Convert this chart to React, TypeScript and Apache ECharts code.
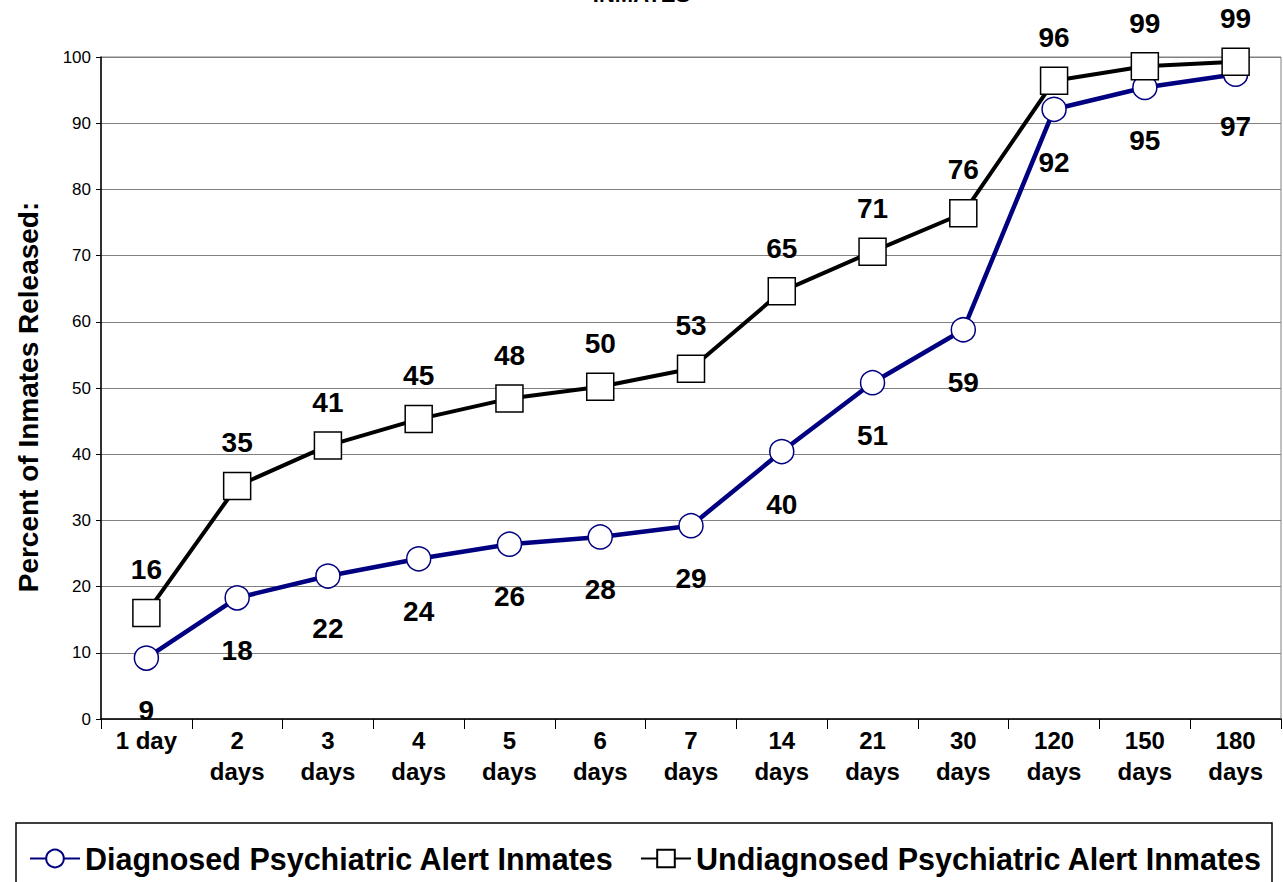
import React, { useEffect, useRef } from "react";
import * as echarts from "echarts";

const categories = ["1 day", "2\ndays", "3\ndays", "4\ndays", "5\ndays", "6\ndays", "7\ndays", "14\ndays", "21\ndays", "30\ndays", "120\ndays", "150\ndays", "180\ndays"];
const diagnosed = [9.2, 18.3, 21.6, 24.2, 26.4, 27.5, 29.2, 40.4, 50.8, 58.8, 92.1, 95.4, 97.4];
const undiagnosed = [16.0, 35.2, 41.3, 45.3, 48.4, 50.2, 52.9, 64.6, 70.6, 76.4, 96.4, 98.6, 99.3];
const seriesNames = ["Diagnosed Psychiatric Alert Inmates", "Undiagnosed Psychiatric Alert Inmates"];
const yTicks = { min: 0, max: 100, interval: 10 };

export default function App() {
  const ref = useRef<HTMLDivElement>(null);
  useEffect(() => {
    const chart = echarts.init(ref.current!, null, { renderer: "svg" });
    const font = "Arial, 'Liberation Sans', Helvetica, sans-serif";
    const legendBase = {
      top: 843,
      padding: 0,
      itemWidth: 50,
      itemHeight: 22,
      textStyle: { fontSize: 30.5, fontWeight: "bold", color: "#000", fontFamily: font },
    };
    chart.setOption({
      animation: false,
      backgroundColor: "#fff",
      textStyle: { fontFamily: font },
      title: {
        text: "INMATES",
        left: "center",
        top: -22,
        textStyle: { fontSize: 22, fontWeight: "bold", color: "#000", fontFamily: font },
      },
      grid: { left: 101, right: 2, top: 57, bottom: 163, show: true, borderColor: "#808080", borderWidth: 1 },
      legend: [
        { ...legendBase, left: 29, data: [seriesNames[0]] },
        { ...legendBase, left: 640, data: [seriesNames[1]] },
      ],
      graphic: [
        {
          type: "rect",
          shape: { x: 16, y: 823, width: 1256, height: 70 },
          style: { fill: "none", stroke: "#000", lineWidth: 1.5 },
          silent: true,
        },
      ],
      xAxis: {
        type: "category",
        data: categories,
        boundaryGap: true,
        axisLine: { lineStyle: { color: "#000", width: 1.5 } },
        axisTick: { show: true, length: 10, lineStyle: { color: "#000" } },
        axisLabel: {
          color: "#000",
          fontSize: 24,
          fontWeight: "bold",
          lineHeight: 31,
          margin: 6,
          interval: 0,
          verticalAlign: "top",
          fontFamily: font,
        },
      },
      yAxis: {
        type: "value",
        min: yTicks.min,
        max: yTicks.max,
        interval: yTicks.interval,
        name: "Percent of Inmates Released:",
        nameLocation: "middle",
        nameGap: 59,
        nameTextStyle: { fontSize: 28, fontWeight: "bold", color: "#000", fontFamily: font, padding: [0, 18, 0, 0] },
        axisLine: { show: true, lineStyle: { color: "#000", width: 1.5 } },
        axisTick: { show: true, length: 5, lineStyle: { color: "#000" } },
        axisLabel: { color: "#000", fontSize: 17, margin: 10, fontFamily: font },
        splitLine: { lineStyle: { color: "#808080", width: 1 } },
      },
      series: [
        {
          name: seriesNames[0],
          type: "line",
          data: diagnosed,
          symbol: "circle",
          symbolSize: 24,
          z: 2,
          lineStyle: { color: "#000080", width: 4.5 },
          itemStyle: { color: "#fff", borderColor: "#000080", borderWidth: 1.5 },
          label: {
            show: true,
            position: "bottom",
            distance: 26,
            formatter: (p: any) => String(Math.round(p.value)),
            color: "#000",
            fontSize: 28,
            fontWeight: "bold",
            fontFamily: font,
          },
        },
        {
          name: seriesNames[1],
          type: "line",
          data: undiagnosed,
          symbol: "rect",
          symbolSize: 27,
          z: 3,
          lineStyle: { color: "#000", width: 4 },
          itemStyle: { color: "#fff", borderColor: "#000", borderWidth: 1.5 },
          label: {
            show: true,
            position: "top",
            distance: 15,
            formatter: (p: any) => String(Math.round(p.value)),
            color: "#000",
            fontSize: 28,
            fontWeight: "bold",
            fontFamily: font,
          },
        },
      ],
    });
    return () => chart.dispose();
  }, []);
  return <div ref={ref} style={{ position: "fixed", left: 0, top: 0, width: 1283, height: 882 }} />;
}
